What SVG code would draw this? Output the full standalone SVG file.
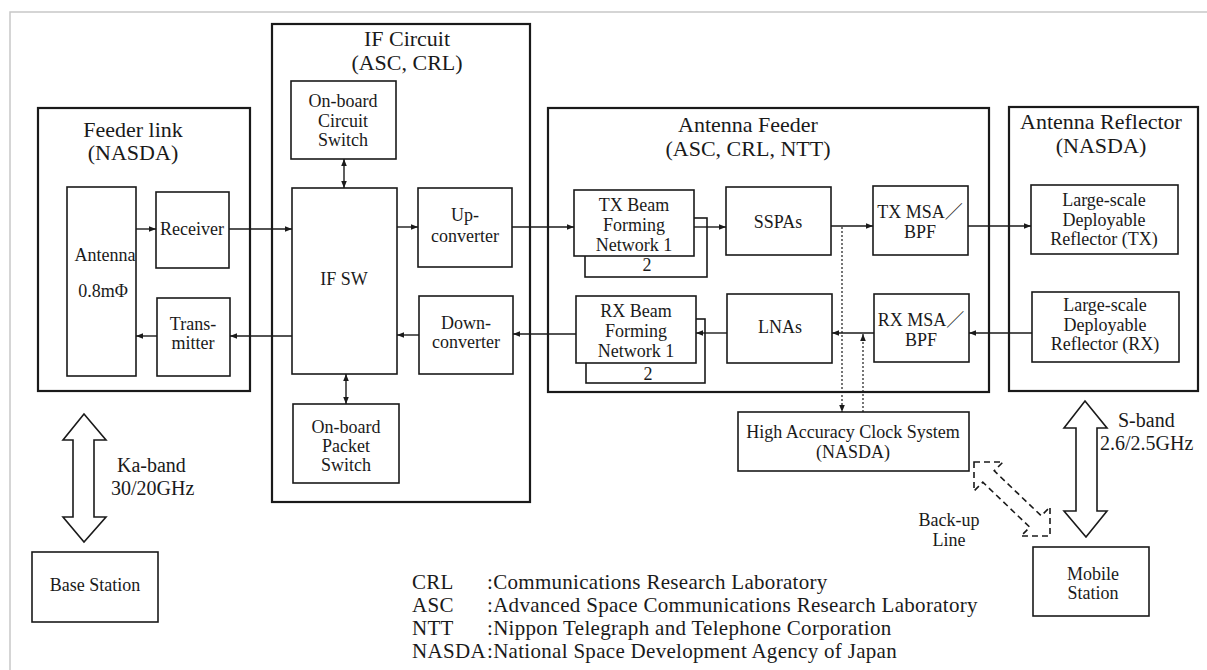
<svg xmlns="http://www.w3.org/2000/svg" width="1207" height="670" viewBox="0 0 1207 670">
<style>
  text { font-family: "Liberation Serif", "Noto Sans CJK JP", serif; fill: #1a1a1a; }
  .t { font-size: 22px; text-anchor: middle; }
  .b { font-size: 18px; text-anchor: middle; }
  .band { font-size: 20px; }
  .leg { font-size: 21px; letter-spacing: 0.3px; }
  .grp { fill: none; stroke: #1a1a1a; stroke-width: 2.2; }
  .box { fill: #fff; stroke: #1a1a1a; stroke-width: 1.6; }
  .bk { fill: #fff; stroke: #1a1a1a; stroke-width: 1.6; }
  .ln { fill: none; stroke: #1a1a1a; stroke-width: 1.4; }
  .dot { fill: none; stroke: #1a1a1a; stroke-width: 1.2; stroke-dasharray: 2 2; }
  .big { fill: #fff; stroke: #1a1a1a; stroke-width: 1.6; }
  .dash { fill: #fff; stroke: #1a1a1a; stroke-width: 1.6; stroke-dasharray: 6 4; }
  .frame { fill: none; stroke: #c8c8c8; stroke-width: 1.5; }
</style>
<defs>
  <marker id="ah" viewBox="0 0 10 10" refX="10" refY="5" markerWidth="7" markerHeight="7" markerUnits="userSpaceOnUse" orient="auto-start-reverse">
    <path d="M0,1 L10,5 L0,9 z" fill="#1a1a1a"/>
  </marker>
</defs>
<rect width="1207" height="670" fill="#fff"/>
<path class="frame" d="M10,670 L10,12 L1207,12"/>

<g id="feeder-link">
  <rect class="grp" x="38" y="108" width="212" height="283"/>
  <text class="t" x="133" y="137">Feeder link</text>
  <text class="t" x="133" y="160">(NASDA)</text>
</g>
<g id="antenna">
  <rect class="box" x="67" y="187" width="69" height="189"/>
  <text class="b" x="105" y="261">Antenna</text>
  <text class="b" x="103" y="297">0.8mΦ</text>
</g>
<g id="receiver">
  <rect class="box" x="156" y="192" width="73" height="76"/>
  <text class="b" x="192" y="235">Receiver</text>
</g>
<g id="transmitter">
  <rect class="box" x="157" y="298" width="73" height="78"/>
  <text class="b" x="193" y="330">Trans-</text>
  <text class="b" x="193" y="349">mitter</text>
</g>

<g id="if-circuit">
  <rect class="grp" x="272" y="24" width="258" height="478"/>
  <text class="t" x="407" y="46">IF Circuit</text>
  <text class="t" x="407" y="70">(ASC, CRL)</text>
</g>
<g id="circuit-switch">
  <rect class="box" x="291" y="81" width="105" height="78"/>
  <text class="b" x="343" y="107">On-board</text>
  <text class="b" x="343" y="127">Circuit</text>
  <text class="b" x="343" y="146">Switch</text>
</g>
<g id="if-sw">
  <rect class="box" x="292" y="188" width="105" height="186"/>
  <text class="b" x="344" y="285">IF SW</text>
</g>
<g id="up-converter">
  <rect class="box" x="418" y="188" width="94" height="79"/>
  <text class="b" x="465" y="221">Up-</text>
  <text class="b" x="465" y="242">converter</text>
</g>
<g id="down-converter">
  <rect class="box" x="419" y="296" width="94" height="78"/>
  <text class="b" x="466" y="329">Down-</text>
  <text class="b" x="466" y="348">converter</text>
</g>
<g id="packet-switch">
  <rect class="box" x="293" y="404" width="106" height="79"/>
  <text class="b" x="346" y="433">On-board</text>
  <text class="b" x="346" y="452">Packet</text>
  <text class="b" x="346" y="471">Switch</text>
</g>

<g id="antenna-feeder">
  <rect class="grp" x="548" y="108" width="441" height="284"/>
  <text class="t" x="748" y="132">Antenna Feeder</text>
  <text class="t" x="748" y="156">(ASC, CRL, NTT)</text>
</g>
<g id="tx-bfn">
  <rect class="bk" x="585" y="218" width="122" height="59"/>
  <text class="b" x="647" y="271">2</text>
  <rect class="box" x="574" y="190" width="120" height="66"/>
  <text class="b" x="634" y="211">TX Beam</text>
  <text class="b" x="634" y="231">Forming</text>
  <text class="b" x="634" y="251">Network 1</text>
</g>
<g id="sspas">
  <rect class="box" x="726" y="187" width="105" height="68"/>
  <text class="b" x="778" y="228">SSPAs</text>
</g>
<g id="tx-msa">
  <rect class="box" x="873" y="186" width="95" height="69"/>
  <text class="b" x="920" y="218">TX MSA／</text>
  <text class="b" x="920" y="238">BPF</text>
</g>
<g id="rx-bfn">
  <rect class="bk" x="586" y="319" width="119" height="64"/>
  <text class="b" x="648" y="380">2</text>
  <rect class="box" x="576" y="296" width="120" height="67"/>
  <text class="b" x="636" y="317">RX Beam</text>
  <text class="b" x="636" y="337">Forming</text>
  <text class="b" x="636" y="357">Network 1</text>
</g>
<g id="lnas">
  <rect class="box" x="727" y="294" width="105" height="69"/>
  <text class="b" x="780" y="333">LNAs</text>
</g>
<g id="rx-msa">
  <rect class="box" x="874" y="294" width="95" height="68"/>
  <text class="b" x="921" y="326">RX MSA／</text>
  <text class="b" x="921" y="346">BPF</text>
</g>

<g id="antenna-reflector">
  <rect class="grp" x="1009" y="107" width="189" height="284"/>
  <text class="t" x="1101" y="129">Antenna Reflector</text>
  <text class="t" x="1101" y="153">(NASDA)</text>
</g>
<g id="reflector-tx">
  <rect class="box" x="1031" y="185" width="147" height="69"/>
  <text class="b" x="1104" y="206">Large-scale</text>
  <text class="b" x="1104" y="226">Deployable</text>
  <text class="b" x="1104" y="245">Reflector (TX)</text>
</g>
<g id="reflector-rx">
  <rect class="box" x="1032" y="292" width="147" height="70"/>
  <text class="b" x="1105" y="311">Large-scale</text>
  <text class="b" x="1105" y="331">Deployable</text>
  <text class="b" x="1105" y="350">Reflector (RX)</text>
</g>

<g id="clock-system">
  <rect class="box" x="738" y="412" width="231" height="59"/>
  <text class="b" x="853" y="438">High Accuracy Clock System</text>
  <text class="b" x="853" y="458">(NASDA)</text>
</g>
<g id="base-station">
  <rect class="box" x="32" y="552" width="126" height="70"/>
  <text class="b" x="95" y="591">Base Station</text>
</g>
<g id="mobile-station">
  <rect class="box" x="1033" y="547" width="116" height="69"/>
  <text class="b" x="1093" y="580">Mobile</text>
  <text class="b" x="1093" y="599">Station</text>
</g>

<g id="connectors">
  <line class="ln" x1="136" y1="229" x2="156" y2="229" marker-end="url(#ah)"/>
  <line class="ln" x1="229" y1="229" x2="292" y2="229" marker-end="url(#ah)"/>
  <line class="ln" x1="292" y1="336" x2="230" y2="336" marker-end="url(#ah)"/>
  <line class="ln" x1="157" y1="336" x2="136" y2="336" marker-end="url(#ah)"/>
  <line class="ln" x1="344" y1="159" x2="344" y2="188" marker-start="url(#ah)" marker-end="url(#ah)"/>
  <line class="ln" x1="346" y1="374" x2="346" y2="404" marker-start="url(#ah)" marker-end="url(#ah)"/>
  <line class="ln" x1="397" y1="227" x2="418" y2="227" marker-end="url(#ah)"/>
  <line class="ln" x1="419" y1="335" x2="397" y2="335" marker-end="url(#ah)"/>
  <line class="ln" x1="512" y1="227" x2="574" y2="227" marker-end="url(#ah)"/>
  <line class="ln" x1="576" y1="334" x2="513" y2="334" marker-end="url(#ah)"/>
  <line class="ln" x1="694" y1="227" x2="726" y2="227" marker-end="url(#ah)"/>
  <line class="ln" x1="831" y1="226" x2="873" y2="226" marker-end="url(#ah)"/>
  <line class="ln" x1="968" y1="226" x2="1031" y2="226" marker-end="url(#ah)"/>
  <line class="ln" x1="1032" y1="333" x2="969" y2="333" marker-end="url(#ah)"/>
  <line class="ln" x1="874" y1="333" x2="832" y2="333" marker-end="url(#ah)"/>
  <line class="ln" x1="727" y1="333" x2="696" y2="333" marker-end="url(#ah)"/>
  <line class="dot" x1="842" y1="227" x2="842" y2="412" marker-end="url(#ah)"/>
  <line class="dot" x1="863" y1="412" x2="863" y2="334" marker-end="url(#ah)"/>
  <polygon class="big" points="84,414 106,440 94,440 94,517 106,517 84,542 63,517 73,517 73,440 63,440"/>
  <polygon class="big" points="1085,401 1107,428 1097,428 1097,511 1107,511 1086,537 1064,511 1076,511 1076,428 1064,428"/>
  <polygon class="dash" points="974,462 1003,462 994.2,470.8 1041.2,515.8 1050,507 1050,536 1021,536 1029.8,527.2 982.8,482.2 974,491"/>
</g>

<g id="labels">
  <text class="band" x="117" y="472">Ka-band</text>
  <text class="band" x="111" y="495">30/20GHz</text>
  <text class="band" x="1118" y="427">S-band</text>
  <text class="band" x="1100" y="450">2.6/2.5GHz</text>
  <text class="b" x="949" y="526">Back-up</text>
  <text class="b" x="949" y="546">Line</text>
</g>

<g id="legend">
  <text class="leg" x="412" y="589">CRL</text>
  <text class="leg" x="487" y="589">:Communications Research Laboratory</text>
  <text class="leg" x="412" y="612">ASC</text>
  <text class="leg" x="487" y="612">:Advanced Space Communications Research Laboratory</text>
  <text class="leg" x="412" y="635">NTT</text>
  <text class="leg" x="487" y="635">:Nippon Telegraph and Telephone Corporation</text>
  <text class="leg" x="412" y="658">NASDA</text>
  <text class="leg" x="487" y="658">:National Space Development Agency of Japan</text>
</g>
</svg>
